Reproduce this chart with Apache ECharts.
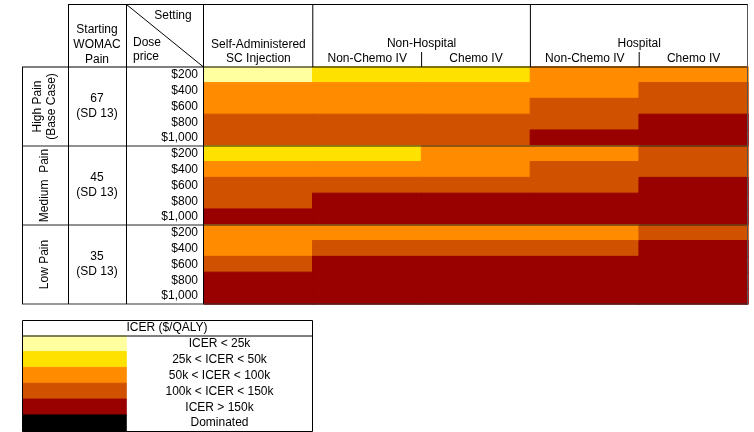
<!DOCTYPE html>
<html>
<head>
<meta charset="utf-8">
<script src="https://cdn.jsdelivr.net/npm/echarts@6/dist/echarts.min.js"></script>
<style>
html, body { margin: 0; padding: 0; background: #fff; }
#chart { width: 754px; height: 432px; }
</style>
</head>
<body>
<div id="chart"></div>
<script>
var settings = ['Self-Administered\nSC Injection', 'Non-Chemo IV', 'Chemo IV', 'Non-Chemo IV', 'Chemo IV'];
var settingGroups = ['Non-Hospital', 'Hospital'];
var painGroups = ['High Pain\n(Base Case)', 'Medium  Pain', 'Low Pain'];
var womacPain = ['67\n(SD 13)', '45\n(SD 13)', '35\n(SD 13)'];
var doses = ['$200', '$400', '$600', '$800', '$1,000'];

// ICER class (1..6) for each dose row, columns follow settings
var highPain   = [[1,2,2,3,3],[3,3,3,3,4],[3,3,3,4,4],[4,4,4,4,5],[4,4,4,5,5]];
var mediumPain = [[2,2,3,3,4],[3,3,3,4,4],[4,4,4,4,5],[4,5,5,5,5],[5,5,5,5,5]];
var lowPain    = [[3,3,3,3,4],[3,4,4,4,5],[4,5,5,5,5],[5,5,5,5,5],[5,5,5,5,5]];

var icerLabels = ['ICER < 25k', '25k < ICER < 50k', '50k < ICER < 100k', '100k < ICER < 150k', 'ICER > 150k', 'Dominated'];
var icerColors = ['#ffffa0', '#ffe100', '#ff8c00', '#d05200', '#990000', '#000000'];

var FONT = 'Liberation Sans, Arial, sans-serif';

// table layout
var L = { x0: 22, x1: 68, x2: 126, x3: 203.5, top: 4.5, gx: 204, gy: 67, gw: 544, gh: 237,
          legTop: 320.5, legTitle: 336, legSw: 103, legW: 290, legH: 95 };

// coloured cell, border in the same colour so neighbouring cells leave no seam
function cell(c, r, v){
    var col = icerColors[v - 1];
    return { value: [c, r, v], itemStyle: { color: col, borderColor: col, borderWidth: 1 } };
}

var rowKeys = [];
var cells = [];
[highPain, mediumPain, lowPain].forEach(function(group, g){
    group.forEach(function(row, r){
        rowKeys.push(g + '-' + r);
        row.forEach(function(v, c){
            cells.push(cell(c, g * 5 + r, v));
        });
    });
});
var legendCells = icerLabels.map(function(l, i){ return cell(0, i, i + 1); });

function line(x1, y1, x2, y2, color){
    return { type: 'line', silent: true, z: 10,
             shape: { x1: x1, y1: y1, x2: x2, y2: y2 },
             style: { stroke: color || '#000', lineWidth: 1 } };
}
function text(str, x, y, align, lh){
    return { type: 'text', silent: true, z: 10, x: x, y: y,
             style: { text: str, fill: '#000', font: '12px ' + FONT, align: align || 'center',
                      verticalAlign: 'middle', lineHeight: lh || 14 } };
}

var colW = L.gw / settings.length;
var right = L.gx + L.gw;
var gBottom = L.gy + L.gh;
var grpH = L.gh / 3;

var graphics = [
    line(L.x1, L.top, right, L.top),
    line(L.x0, L.gy, right, L.gy),
    line(L.x0, L.gy + grpH, right, L.gy + grpH, '#222'),
    line(L.x0, L.gy + 2 * grpH, right, L.gy + 2 * grpH, '#222'),
    line(L.x0, gBottom, right, gBottom, '#333'),
    line(L.x0 + 0.5, L.gy, L.x0 + 0.5, gBottom),
    line(L.x1 + 0.5, L.top, L.x1 + 0.5, gBottom),
    line(L.x2 + 0.5, L.top, L.x2 + 0.5, gBottom),
    line(L.x3, L.top, L.x3, gBottom),
    line(L.gx + colW, L.top, L.gx + colW, L.gy),
    line(L.gx + 3 * colW, L.top, L.gx + 3 * colW, L.gy),
    line(right - 0.5, L.top, right - 0.5, gBottom, '#555'),
    line(L.gx + 2 * colW, 52, L.gx + 2 * colW, L.gy),
    line(L.gx + 4 * colW, 52, L.gx + 4 * colW, L.gy),
    line(L.x2 + 0.5, L.top, L.x3, L.gy),
    text('Setting', 173, 16),
    text('Dose\nprice', 133, 50, 'left', 14),
    text('Starting\nWOMAC\nPain', 97, 45, 'center', 15),
    text(settingGroups[0], L.gx + 2 * colW, 44),
    text(settingGroups[1], L.gx + 4 * colW, 44),
    // legend frame
    { type: 'rect', silent: true, z: 10,
      shape: { x: L.x0 + 0.5, y: L.legTop, width: L.legW, height: L.legH + (L.legTitle - L.legTop) + 0.5 },
      style: { fill: null, stroke: '#000', lineWidth: 1 } },
    line(L.x0, L.legTitle, L.x0 + L.legW, L.legTitle),
    text('ICER ($/QALY)', L.x0 + L.legW / 2, 328)
];

var chart = echarts.init(document.getElementById('chart'));
chart.setOption({
    animation: false,
    textStyle: { fontFamily: FONT },
    grid: [
        { left: L.gx, top: L.gy, width: L.gw, height: L.gh },
        { left: L.x0 + 1, top: L.legTitle, width: L.legSw, height: L.legH }
    ],
    xAxis: [
        { type: 'category', gridIndex: 0, data: settings, position: 'top',
          axisLine: { show: false }, axisTick: { show: false }, splitLine: { show: false },
          axisLabel: { interval: 0, margin: 1, fontSize: 12, color: '#000', lineHeight: 14 } },
        { type: 'category', gridIndex: 1, data: [''], show: false }
    ],
    yAxis: [
        { type: 'category', gridIndex: 0, data: rowKeys, inverse: true, position: 'left',
          axisLine: { show: false }, axisTick: { show: false },
          axisLabel: { interval: 0, margin: 6, fontSize: 12, color: '#000',
                       formatter: function(v, i){ return doses[i % doses.length]; } } },
        { type: 'category', gridIndex: 0, data: painGroups, inverse: true, position: 'left',
          axisLine: { show: false }, axisTick: { show: false },
          axisLabel: { interval: 0, rotate: 90, margin: L.gx - 45, align: 'center', verticalAlign: 'middle',
                       fontSize: 12, color: '#000', lineHeight: 14 } },
        { type: 'category', gridIndex: 0, data: womacPain, inverse: true, position: 'left',
          axisLine: { show: false }, axisTick: { show: false },
          axisLabel: { interval: 0, margin: L.gx - 97, align: 'center', verticalAlign: 'middle',
                       fontSize: 12, color: '#000', lineHeight: 15 } },
        { type: 'category', gridIndex: 1, data: icerLabels, inverse: true, position: 'right',
          axisLine: { show: false }, axisTick: { show: false },
          axisLabel: { interval: 0, margin: (L.legW - L.legSw) / 2, align: 'center', verticalAlign: 'middle',
                       fontSize: 12, color: '#000' } }
    ],
    series: [
        { type: 'heatmap', xAxisIndex: 0, yAxisIndex: 0, data: cells },
        { type: 'heatmap', xAxisIndex: 1, yAxisIndex: 3, data: legendCells }
    ],
    graphic: graphics
});
</script>
</body>
</html>
